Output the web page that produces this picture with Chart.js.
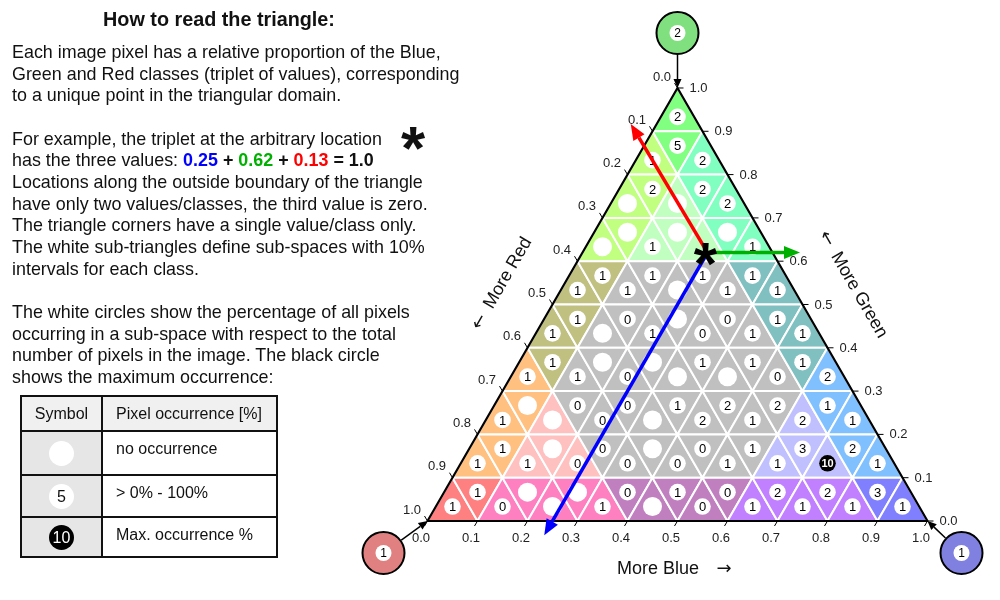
<!DOCTYPE html>
<html>
<head>
<meta charset="utf-8">
<script src="https://cdn.jsdelivr.net/npm/chart.js@4.4.1/dist/chart.umd.min.js"></script>
<style>
  body { margin: 0; width: 1000px; height: 600px; position: relative; overflow: hidden; background: #fff;
         font-family: "Liberation Sans", Arial, sans-serif; color: #111; }
  #ternary { position: absolute; left: 0; top: 0; }
  #title { position: absolute; left: 0; width: 438px; top: 8px; text-align: center; font-weight: bold; font-size: 19.8px; }
  #notes { position: absolute; left: 12px; top: 42px; font-size: 17.9px; line-height: 21.65px; white-space: nowrap; }
  #bigstar { position: absolute; left: 401px; top: 117px; font-size: 62px; font-weight: bold; line-height: 62px; }
  .b { font-weight: bold; }
  #legend { position: absolute; left: 20px; top: 395px; border-collapse: collapse; font-size: 16px; }
  #legend td { border: 2px solid #111; padding: 0; }
  #legend td.sym { width: 79px; background: #e6e6e6; text-align: center; }
  #legend td.txt { width: 160px; padding-left: 13px; background: #fff; vertical-align: top; padding-top: 8px; }
  #legend tr.head td { background: #f0f0f0; height: 33px; vertical-align: middle; padding-top: 0; }
  .dot { display: inline-block; width: 25px; height: 25px; border-radius: 50%; background: #fff; line-height: 25px;
         text-align: center; font-size: 16px; vertical-align: middle; }
  .dot.max { background: #000; color: #fff; }
</style>
</head>
<body>
<canvas id="ternary" width="1000" height="600"></canvas>
<div id="title">How to read the triangle:</div>
<div id="notes">
Each image pixel has a relative proportion of the Blue,<br>
Green and Red classes (triplet of values), corresponding<br>
to a unique point in the triangular domain.<br>
<br>
For example, the triplet at the arbitrary location<br>
has the three values: <span class="b" style="color:#0000ff">0.25</span> <span class="b">+</span> <span class="b" style="color:#00b000">0.62</span> <span class="b">+</span> <span class="b" style="color:#ff0000">0.13</span> <span class="b">= 1.0</span><br>
Locations along the outside boundary of the triangle<br>
have only two values/classes, the third value is zero.<br>
The triangle corners have a single value/class only.<br>
The white sub-triangles define sub-spaces with 10%<br>
intervals for each class.<br>
<br>
The white circles show the percentage of all pixels<br>
occurring in a sub-space with respect to the total<br>
number of pixels in the image. The black circle<br>
shows the maximum occurrence:
</div>
<div id="bigstar">*</div>
<table id="legend">
  <tr class="head"><td class="sym">Symbol</td><td class="txt">Pixel occurrence [%]</td></tr>
  <tr style="height:44px"><td class="sym"><span class="dot"></span></td><td class="txt">no occurrence</td></tr>
  <tr style="height:42px"><td class="sym"><span class="dot">5</span></td><td class="txt">&gt; 0% - 100%</td></tr>
  <tr style="height:40px"><td class="sym"><span class="dot max">10</span></td><td class="txt">Max. occurrence %</td></tr>
</table>

<script>
// occurrence [%] per sub-triangle, top row first, left to right (null = no occurrence, '*' = hidden by the marker)
const cellCounts = [
  [2],
  [1, 5, 2],
  [null, 2, null, 2, 2],
  [null, null, 1, null, '*', null, 1],
  [1, 1, 1, 1, null, 1, 1, 1, 1],
  [1, 1, null, 0, 1, null, 0, 0, 1, 1, 1],
  [1, 1, 1, null, 0, null, null, 1, null, 1, 0, 1, 2],
  [1, null, null, 0, 0, 0, null, 1, 2, 2, 1, 2, 2, 1, 1],
  [1, 1, 1, null, 0, 0, 0, null, 0, 0, 1, 1, 1, 3, 10, 2, 1],
  [1, 1, 0, null, null, null, 1, 0, null, 1, 0, 0, 1, 2, 1, 2, 1, 3, 1]
];
const maxCount = 10;
const cornerNames = ["Green", "Red", "Blue"];
const cornerCounts = [2, 1, 1];
const tickLabels = ["0.0", "0.1", "0.2", "0.3", "0.4", "0.5", "0.6", "0.7", "0.8", "0.9", "1.0"];
const exampleBlue = 0.25;
const exampleGreen = 0.62;
const exampleRed = 0.13;

const SQ3 = Math.sqrt(3);
const FONT = '"Liberation Sans", Arial, sans-serif';
const ARROWFONT = '18px "DejaVu Sans", sans-serif';

// ternary (blue, green) -> cartesian data units
function toXY(b, g) {
  return { x: b + g / 2, y: g * SQ3 / 2 };
}

// vertices of sub-triangle j in row i, in tenths (blue, green)
function cellVerts(i, j) {
  const k = Math.floor(j / 2);
  if (j % 2 === 0) return [[k, 9 - i], [k + 1, 9 - i], [k, 10 - i]];
  return [[k, 10 - i], [k + 1, 10 - i], [k + 1, 9 - i]];
}

// class dominant (>= 0.6) -> ff, absent (< 0.1) -> 80, otherwise c0
function cellColor(verts) {
  const b = (verts[0][0] + verts[1][0] + verts[2][0]) / 3;
  const g = (verts[0][1] + verts[1][1] + verts[2][1]) / 3;
  const r = 10 - b - g;
  const ch = v => (v >= 6 ? 255 : v < 1 ? 128 : 192);
  return `rgb(${ch(r)},${ch(g)},${ch(b)})`;
}

const circlePoints = [];
cellCounts.forEach((row, i) => row.forEach((v, j) => {
  if (v === '*') return;
  const vs = cellVerts(i, j);
  const b = (vs[0][0] + vs[1][0] + vs[2][0]) / 30;
  const g = (vs[0][1] + vs[1][1] + vs[2][1]) / 30;
  const p = toXY(b, g);
  circlePoints.push({ x: p.x, y: p.y, v: v });
}));

function arrow(ctx, x1, y1, x2, y2, color, width, headLen, headW) {
  const a = Math.atan2(y2 - y1, x2 - x1);
  const bx = x2 - headLen * Math.cos(a), by = y2 - headLen * Math.sin(a);
  ctx.save();
  ctx.strokeStyle = color; ctx.fillStyle = color; ctx.lineWidth = width;
  ctx.beginPath(); ctx.moveTo(x1, y1); ctx.lineTo(bx, by); ctx.stroke();
  ctx.beginPath();
  ctx.moveTo(x2, y2);
  ctx.lineTo(bx + headW / 2 * Math.sin(a), by - headW / 2 * Math.cos(a));
  ctx.lineTo(bx - headW / 2 * Math.sin(a), by + headW / 2 * Math.cos(a));
  ctx.closePath(); ctx.fill();
  ctx.restore();
}

// axis title with a separate arrow glyph before (or after) the words
function axisTitle(ctx, text, arrowChar, before, cx, cy, angle) {
  ctx.save();
  ctx.translate(cx, cy);
  ctx.rotate(angle);
  ctx.font = '18px ' + FONT;
  const w = ctx.measureText(text).width;
  ctx.fillText(text, 0, 0);
  ctx.font = ARROWFONT;
  ctx.fillText(arrowChar, before ? -w / 2 - 17 : w / 2 + 25, 0);
  ctx.restore();
}

const trianglePlugin = {
  id: 'triangle',
  beforeDatasetsDraw(chart) {
    const { ctx, scales: { x, y } } = chart;
    const P = (b, g) => { const p = toXY(b, g); return [x.getPixelForValue(p.x), y.getPixelForValue(p.y)]; };
    ctx.save();
    // sub-triangles
    cellCounts.forEach((row, i) => row.forEach((v, j) => {
      const vs = cellVerts(i, j);
      ctx.beginPath();
      vs.forEach((q, n) => { const p = P(q[0] / 10, q[1] / 10); n ? ctx.lineTo(p[0], p[1]) : ctx.moveTo(p[0], p[1]); });
      ctx.closePath();
      ctx.fillStyle = cellColor(vs);
      ctx.fill();
      ctx.strokeStyle = '#fff'; ctx.lineWidth = 2; ctx.lineJoin = 'round';
      ctx.stroke();
    }));
    // outline
    const A = P(0, 1), L = P(0, 0), R = P(1, 0);
    ctx.beginPath(); ctx.moveTo(A[0], A[1]); ctx.lineTo(L[0], L[1]); ctx.lineTo(R[0], R[1]); ctx.closePath();
    ctx.strokeStyle = '#000'; ctx.lineWidth = 2.2; ctx.stroke();

    // ticks and labels
    ctx.font = '13px ' + FONT; ctx.fillStyle = '#222'; ctx.strokeStyle = '#000'; ctx.lineWidth = 1;
    tickLabels.forEach((t, n) => {
      const v = n / 10;
      // blue (bottom)
      let p = P(v, 0);
      ctx.beginPath(); ctx.moveTo(p[0], p[1]); ctx.lineTo(p[0] - 3, p[1] + 5); ctx.stroke();
      ctx.textAlign = 'center'; ctx.textBaseline = 'middle';
      ctx.fillText(t, p[0] - 6.5, p[1] + 17);
      // green (right)
      p = P(1 - v, v);
      ctx.beginPath(); ctx.moveTo(p[0], p[1]); ctx.lineTo(p[0] + 6, p[1]); ctx.stroke();
      ctx.textAlign = 'left';
      ctx.fillText(t, p[0] + 12, p[1] + 0.5);
      // red (left)
      p = P(0, 1 - v);
      ctx.beginPath(); ctx.moveTo(p[0], p[1]); ctx.lineTo(p[0] - 3, p[1] - 5); ctx.stroke();
      ctx.textAlign = 'center';
      ctx.fillText(t, p[0] - 15.5, p[1] - 11);
    });

    // axis titles
    ctx.fillStyle = '#111'; ctx.textAlign = 'center'; ctx.textBaseline = 'middle';
    axisTitle(ctx, 'More Blue', '\u2192', false, 658, L[1] + 48, 0);
    axisTitle(ctx, 'More Red', '\u2190', true, 508, 273, -Math.PI / 3);
    axisTitle(ctx, 'More Green', '\u2190', true, 859, 295, Math.PI / 3);

    // corner circles (pure classes)
    const corners = [
      { p: A, c: [A[0], A[1] - 55], fill: '#80e080' },
      { p: L, c: [L[0] - 44, L[1] + 32], fill: '#e08080' },
      { p: R, c: [R[0] + 34, R[1] + 32], fill: '#8080e0' }
    ];
    corners.forEach((k, n) => {
      const a = Math.atan2(k.p[1] - k.c[1], k.p[0] - k.c[0]);
      arrow(ctx, k.c[0] + 22 * Math.cos(a), k.c[1] + 22 * Math.sin(a), k.p[0], k.p[1], '#000', 1.5, 9, 8);
      ctx.beginPath(); ctx.arc(k.c[0], k.c[1], 21, 0, 2 * Math.PI);
      ctx.fillStyle = k.fill; ctx.fill();
      ctx.lineWidth = 2; ctx.strokeStyle = '#000'; ctx.stroke();
      ctx.beginPath(); ctx.arc(k.c[0], k.c[1], 8, 0, 2 * Math.PI);
      ctx.fillStyle = '#fff'; ctx.fill();
      ctx.fillStyle = '#000'; ctx.font = '12px ' + FONT; ctx.textAlign = 'center'; ctx.textBaseline = 'middle';
      ctx.fillText(String(cornerCounts[n]), k.c[0], k.c[1] + 1);
    });
    ctx.restore();
  },
  afterDatasetsDraw(chart) {
    const { ctx, scales: { x, y } } = chart;
    const P = (b, g) => { const p = toXY(b, g); return [x.getPixelForValue(p.x), y.getPixelForValue(p.y)]; };
    ctx.save();
    // numbers inside circles
    ctx.textAlign = 'center'; ctx.textBaseline = 'middle';
    circlePoints.forEach(pt => {
      if (pt.v === null) return;
      const px = x.getPixelForValue(pt.x), py = y.getPixelForValue(pt.y);
      if (pt.v === maxCount) { ctx.fillStyle = '#fff'; ctx.font = 'bold 11px ' + FONT; }
      else { ctx.fillStyle = '#000'; ctx.font = '13px ' + FONT; }
      ctx.fillText(String(pt.v), px, py + 1);
    });
    // example triplet arrows
    const s = P(exampleBlue, exampleGreen);
    const rEnd = P(-0.052, 1 - exampleRed + 0.052 - 0.005);
    const gEnd = P(0.435, exampleGreen);
    const bEnd = P(exampleBlue, -0.033);
    arrow(ctx, s[0], s[1], rEnd[0], rEnd[1], '#ff0000', 3.5, 16, 13);
    arrow(ctx, s[0], s[1], gEnd[0], gEnd[1], '#00b000', 3.5, 16, 13);
    arrow(ctx, s[0], s[1], bEnd[0], bEnd[1], '#0000ff', 3.5, 16, 13);
    ctx.fillStyle = '#000'; ctx.font = 'bold 60px ' + FONT; ctx.textBaseline = 'alphabetic';
    ctx.fillText('*', s[0] - 2, s[1] + 31);
    ctx.restore();
  }
};

new Chart(document.getElementById('ternary'), {
  type: 'scatter',
  data: {
    datasets: [{
      label: 'occurrence',
      data: circlePoints,
      pointRadius: c => (c.raw && c.raw.v === null ? 9.5 : 8.3),
      pointHoverRadius: c => (c.raw && c.raw.v === null ? 9.5 : 8.3),
      pointBackgroundColor: c => (c.raw && c.raw.v === maxCount ? '#000' : '#fff'),
      pointBorderWidth: 0,
      pointBorderColor: 'rgba(0,0,0,0)'
    }]
  },
  options: {
    responsive: false,
    animation: false,
    events: [],
    layout: { padding: 0, autoPadding: false },
    plugins: { legend: { display: false }, tooltip: { enabled: false } },
    scales: {
      x: { type: 'linear', display: false, min: -0.855, max: 1.145 },
      y: { type: 'linear', display: false, min: -0.158, max: 1.042 }
    }
  },
  plugins: [trianglePlugin]
});
</script>
</body>
</html>
